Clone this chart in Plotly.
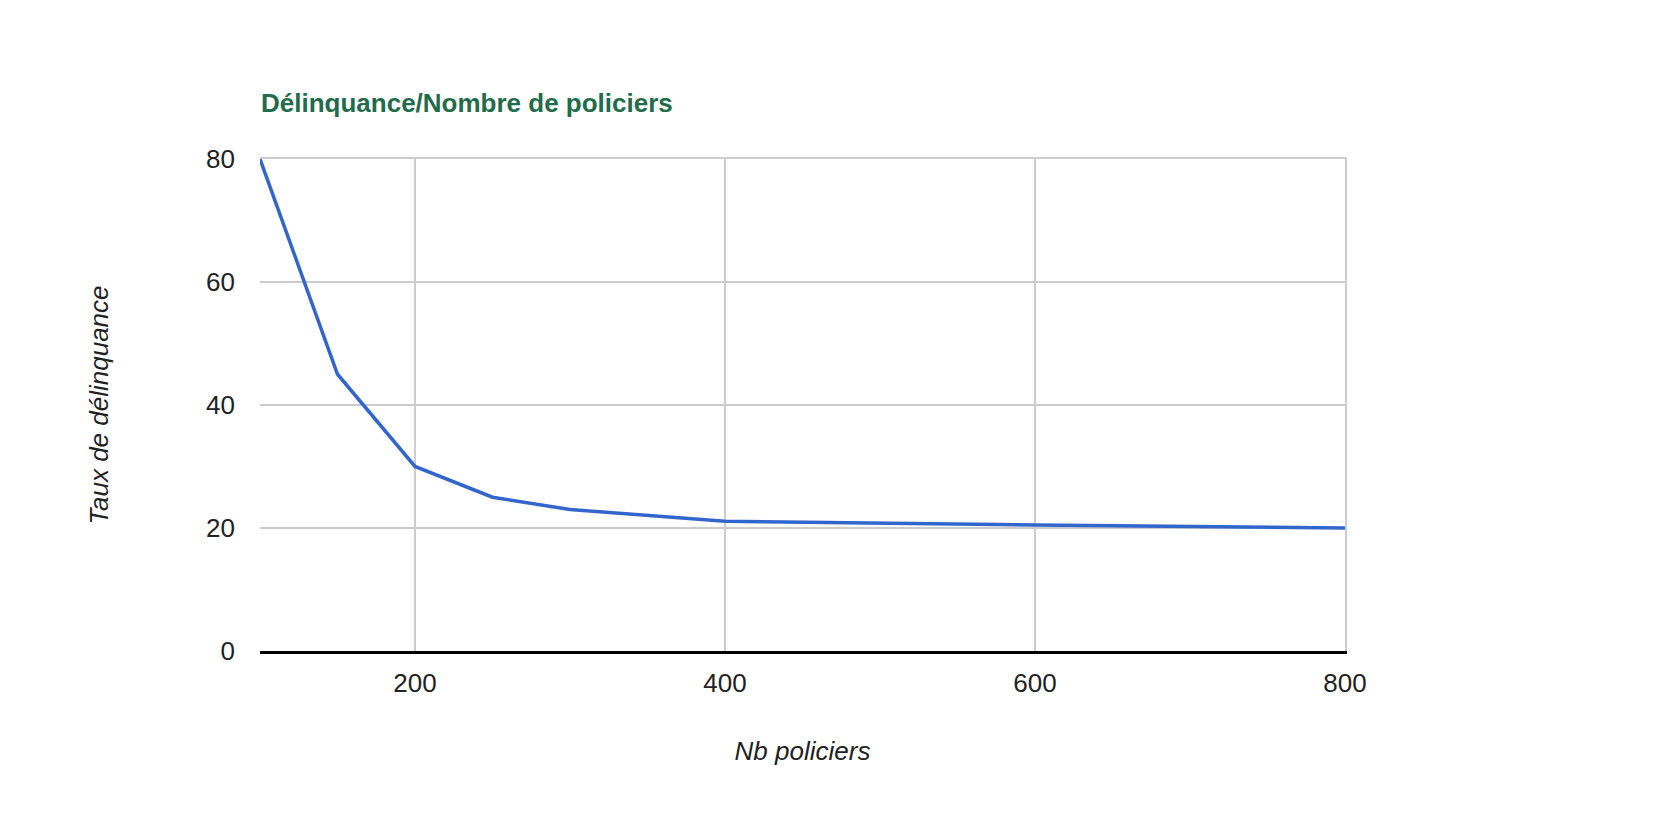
import plotly.graph_objects as go

# nombre de policiers / taux de delinquance
nb_policiers = [100, 150, 200, 250, 300, 400, 600, 800]
taux_delinquance = [80, 45, 30, 25, 23, 21.1, 20.5, 20]

x_ticks = [200, 400, 600, 800]
y_ticks = [0, 20, 40, 60, 80]

FONT = "Liberation Sans, Arial, Helvetica, sans-serif"
TXT = '#222222'
GRID = '#cccccc'

# the page body keeps its default 8px margin, so the figure is a bit smaller
W, H = 1664, 802


def create_chart(x, y):
    fig = go.Figure()
    fig.add_trace(go.Scatter(
        x=x, y=y, mode='lines', name='Taux de délinquance',
        line=dict(color='#3366cc', width=3.5),
        hoverinfo='x+y',
    ))
    # invisible copy on the overlay axes so the grey frame (top/right) gets drawn
    fig.add_trace(go.Scatter(
        x=x, y=y, mode='lines', xaxis='x2', yaxis='y2',
        line=dict(color='rgba(0,0,0,0)', width=0),
        hoverinfo='skip', showlegend=False,
    ))

    fig.update_layout(
        width=W, height=H,
        paper_bgcolor='white',
        plot_bgcolor='white',
        showlegend=False,
        font=dict(family=FONT, size=26, color=TXT),
        margin=dict(l=252, r=327, t=151, b=159, autoexpand=False),
        title=dict(
            text='<b>Délinquance/Nombre de policiers</b>',
            font=dict(family=FONT, size=26, color='#226b4b'),
            x=253 / W, xref='container', xanchor='left',
            y=1 - 95 / H, yref='container', yanchor='middle',
        ),
        xaxis=dict(
            range=[min(x), max(x)], tickvals=x_ticks,
            showgrid=True, gridcolor=GRID, gridwidth=2,
            zeroline=False,
            showline=True, linecolor='black', linewidth=2.5,
            ticks='', ticklabelstandoff=7,
            tickfont=dict(family=FONT, size=26, color=TXT),
            title=dict(text='<i>Nb policiers</i>', standoff=45,
                       font=dict(family=FONT, size=26, color=TXT)),
            automargin=False,
        ),
        yaxis=dict(
            range=[0, 80], tickvals=y_ticks,
            showgrid=True, gridcolor=GRID, gridwidth=2,
            zeroline=False, showline=False,
            ticks='', ticklabelstandoff=24,
            tickfont=dict(family=FONT, size=26, color=TXT),
            title=dict(text='<i>Taux de délinquance</i>', standoff=89,
                       font=dict(family=FONT, size=26, color=TXT)),
            automargin=False,
        ),
        xaxis2=dict(overlaying='x', side='top', matches='x', showline=True,
                    linecolor=GRID, linewidth=2, showgrid=False,
                    showticklabels=False, ticks='', zeroline=False),
        yaxis2=dict(overlaying='y', side='right', matches='y', showline=True,
                    linecolor=GRID, linewidth=2, showgrid=False,
                    showticklabels=False, ticks='', zeroline=False),
    )

    fig.write_html("out.html")


if __name__ == '__main__':
    create_chart(nb_policiers, taux_delinquance)
